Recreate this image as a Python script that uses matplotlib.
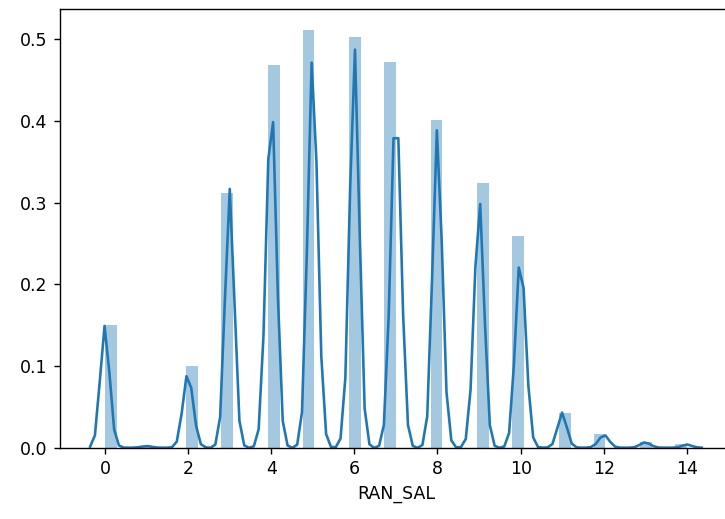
import numpy as np
import matplotlib
matplotlib.use("Agg")
import matplotlib.pyplot as plt

# RAN_SAL values and the share of rows (%) that take each value
ran_sal = np.arange(0, 15)
share = np.array([4.2, 0.06, 2.8, 8.7, 13.1, 14.3, 14.05, 13.2,
                  11.2, 9.05, 7.25, 1.18, 0.48, 0.2, 0.11])

# kde settings (binned fft kde, gaussian kernel)
bandwidth = 0.119
gridsize = 128
cut = 3


def fft_kde(x, w, bw, gridsize, cut):
    a = x.min() - cut * bw
    b = x.max() + cut * bw
    grid, delta = np.linspace(a, b, gridsize, retstep=True)
    pos = (x - a) / delta
    li = pos.astype(int)
    rem = pos - li
    binned = np.zeros(gridsize)
    np.add.at(binned, li, w * (1 - rem))
    np.add.at(binned, li + 1, w * rem)
    binned /= delta * w.sum()
    y = np.fft.rfft(binned) / gridsize
    j = np.arange(gridsize // 2 + 1)
    fac = np.exp(-2 * (np.pi * bw / (b - a)) ** 2 * j ** 2)
    fac /= 1 - (j * np.pi / gridsize) ** 2 / 3
    f = np.fft.irfft(y * fac, gridsize) * gridsize
    return grid, f


fig = plt.figure(figsize=(5.8, 4.152), dpi=125)
ax = fig.add_axes([0.0821, 0.1374, 0.928, 0.8453])

ax.hist(ran_sal, bins=50, range=(0, 14), weights=share, density=True,
        color="#1f77b4", alpha=0.4)
gx, gy = fft_kde(ran_sal.astype(float), share, bandwidth, gridsize, cut)
ax.plot(gx, gy, color="#1f77b4", lw=1.5)
ax.set_ylim(bottom=0)

ax.set_xticks(np.arange(0, 15, 2))
ax.set_xlabel("RAN_SAL")

fig.savefig("out.png", dpi=125)
